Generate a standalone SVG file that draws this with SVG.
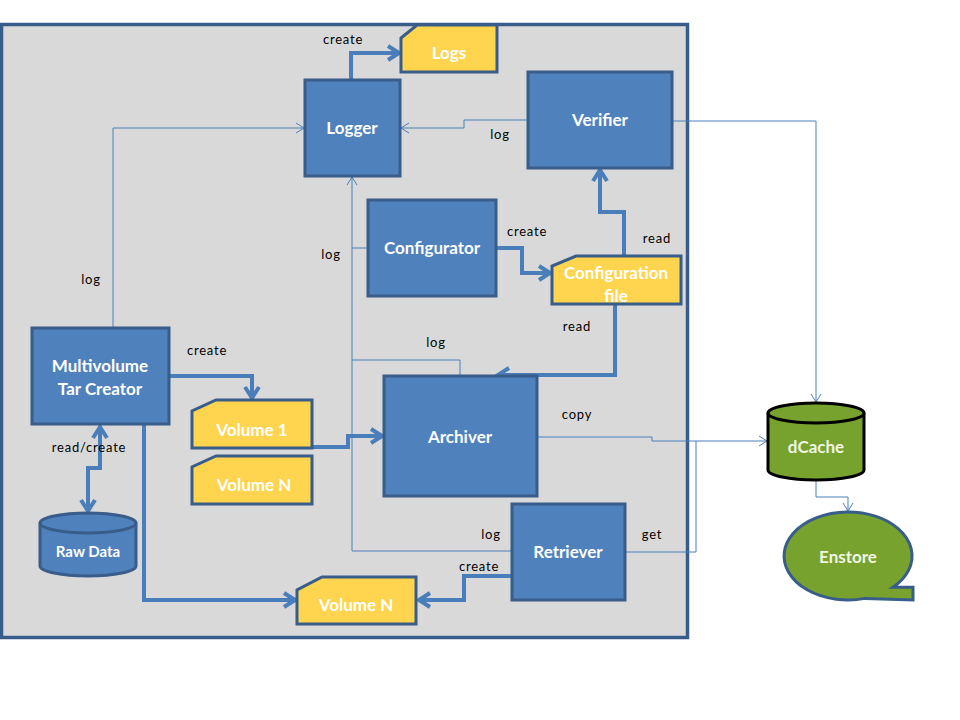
<svg xmlns="http://www.w3.org/2000/svg" width="960" height="720" viewBox="0 0 960 720">
<style>
.node{fill:#4F81BD;stroke:#385D8A;stroke-width:3}
.doc{fill:#FFD44F;stroke:#385D8A;stroke-width:3}
.green{fill:#77A22E}
.nt{font-family:Lato,"Open Sans",sans-serif;font-weight:bold;font-size:17px;fill:#FFFFFF;text-anchor:middle}
.gt{font-family:Lato,"Open Sans",sans-serif;font-weight:bold;font-size:17px;fill:#F0F6E2;text-anchor:middle}
.lbl{font-family:Lato,"Open Sans",sans-serif;font-size:13px;fill:#000;text-anchor:middle;letter-spacing:0.8px}
.thick{fill:none;stroke:#4A7EBB;stroke-width:4;marker-end:url(#ah)}
.thin{fill:none;stroke:#4A7EBB;stroke-width:1;marker-end:url(#at)}
.thinp{fill:none;stroke:#4A7EBB;stroke-width:1}
</style>
<defs>
<marker id="ah" viewBox="0 0 16 18" markerWidth="16" markerHeight="18" refX="13" refY="9" orient="auto-start-reverse" markerUnits="userSpaceOnUse">
<path d="M2,2 L13,9 L2,16" fill="none" stroke="#4A7EBB" stroke-width="4"/>
</marker>
<marker id="at" viewBox="0 0 10 12" markerWidth="10" markerHeight="12" refX="9" refY="6" orient="auto" markerUnits="userSpaceOnUse">
<path d="M1,1 L9,6 L1,11" fill="none" stroke="#4A7EBB" stroke-width="1"/>
</marker>
</defs>
<rect width="960" height="720" fill="#FFFFFF"/>
<g id="frame">
<rect x="1.5" y="24.5" width="686" height="613" fill="#D9D9D9" stroke="#385D8A" stroke-width="3.5"/>
</g>
<g id="connectors">
<path class="thick" d="M351,80 V53 H399"/>
<path class="thin" d="M528,120 H464 V128 H401"/>
<path class="thin" d="M113,327 V128 H304"/>
<path class="thin" d="M352,551 V177"/>
<path class="thinp" d="M368,248 H352"/>
<path class="thinp" d="M460,376 V360 H352"/>
<path class="thinp" d="M512,551 H352"/>
<path class="thick" d="M496,248 H522 V273 H550"/>
<path class="thick" d="M624,256 V212 H600 V170"/>
<path class="thick" d="M615,304 V375 H498"/>
<path class="thick" d="M169,376 H252 V398"/>
<path class="thick" d="M313,447 H348 V436 H382"/>
<path class="thick" d="M100,427 V468 H88 V511" marker-start="url(#ah)"/>
<path class="thick" d="M144,425 V600 H295"/>
<path class="thick" d="M568,600 V576 H464 V600 H419"/>
<path class="thin" d="M537,437 H652 V441 H767"/>
<path class="thinp" d="M625,552 H696 V441"/>
<path class="thin" d="M672,121 H816 V402"/>
<path class="thin" d="M816,481 V497 H848 V511"/>
</g>
<g id="logs">
<path class="doc" d="M417,25 H497 V72 H401 V38 Z"/>
<text class="nt" x="449" y="59">Logs</text>
</g>
<g id="logger">
<rect class="node" x="305" y="80" width="95" height="96"/>
<text class="nt" x="352" y="134">Logger</text>
</g>
<g id="verifier">
<rect class="node" x="528" y="72" width="144" height="96"/>
<text class="nt" x="600" y="126">Verifier</text>
</g>
<g id="configurator">
<rect class="node" x="368" y="200" width="128" height="96"/>
<text class="nt" x="432" y="254">Configurator</text>
</g>
<g id="configfile">
<path class="doc" d="M576,256 H681 V304 H552 V266 Z"/>
<text class="nt" x="616" y="279">Configuration</text>
<text class="nt" x="616" y="302">file</text>
</g>
<g id="multivolume">
<rect class="node" x="32" y="328" width="137" height="96"/>
<text class="nt" x="100" y="372">Multivolume</text>
<text class="nt" x="100" y="395">Tar Creator</text>
</g>
<g id="volume1">
<path class="doc" d="M216,400 H312 V448 H192 V411 Z"/>
<text class="nt" x="252" y="436">Volume 1</text>
</g>
<g id="volumeN1">
<path class="doc" d="M216,456 H312 V504 H192 V467 Z"/>
<text class="nt" x="254" y="491">Volume N</text>
</g>
<g id="archiver">
<rect class="node" x="384" y="376" width="153" height="120"/>
<text class="nt" x="460" y="443">Archiver</text>
</g>
<g id="retriever">
<rect class="node" x="512" y="504" width="113" height="96"/>
<text class="nt" x="568" y="558">Retriever</text>
</g>
<g id="volumeN2">
<path class="doc" d="M322,577 H416 V624 H297 V590 Z"/>
<text class="nt" x="356" y="611">Volume N</text>
</g>
<g id="rawdata">
<path class="node" d="M40,523 A48,10 0 0 1 136,523 V566 A48,10 0 0 1 40,566 Z"/>
<path d="M40,523 A48,10 0 0 0 136,523" fill="none" stroke="#385D8A" stroke-width="3"/>
<text class="nt" x="88" y="557" style="font-size:15px">Raw Data</text>
</g>
<g id="dcache">
<path class="green" d="M768,413 A48,10 0 0 1 864,413 V470 A48,10 0 0 1 768,470 Z" stroke="#000" stroke-width="3"/>
<path d="M768,413 A48,10 0 0 0 864,413" fill="none" stroke="#000" stroke-width="3"/>
<text class="gt" x="816" y="453">dCache</text>
</g>
<g id="enstore">
<path class="green" d="M893,587.3 L913,587.3 L913,600 L865,598.4 A64,44 0 1 1 893,587.3 Z" stroke="#385D8A" stroke-width="3" stroke-linejoin="miter"/>
<text class="gt" x="848" y="563">Enstore</text>
</g>
<g id="labels">
<text class="lbl" x="343" y="44">create</text>
<text class="lbl" x="500" y="139">log</text>
<text class="lbl" x="91" y="284">log</text>
<text class="lbl" x="331" y="259">log</text>
<text class="lbl" x="527" y="236">create</text>
<text class="lbl" x="657" y="243">read</text>
<text class="lbl" x="577" y="331">read</text>
<text class="lbl" x="436" y="347">log</text>
<text class="lbl" x="207" y="355">create</text>
<text class="lbl" x="577" y="419">copy</text>
<text class="lbl" x="89" y="452">read/create</text>
<text class="lbl" x="491" y="539">log</text>
<text class="lbl" x="652" y="539">get</text>
<text class="lbl" x="479" y="571">create</text>
</g>
</svg>
